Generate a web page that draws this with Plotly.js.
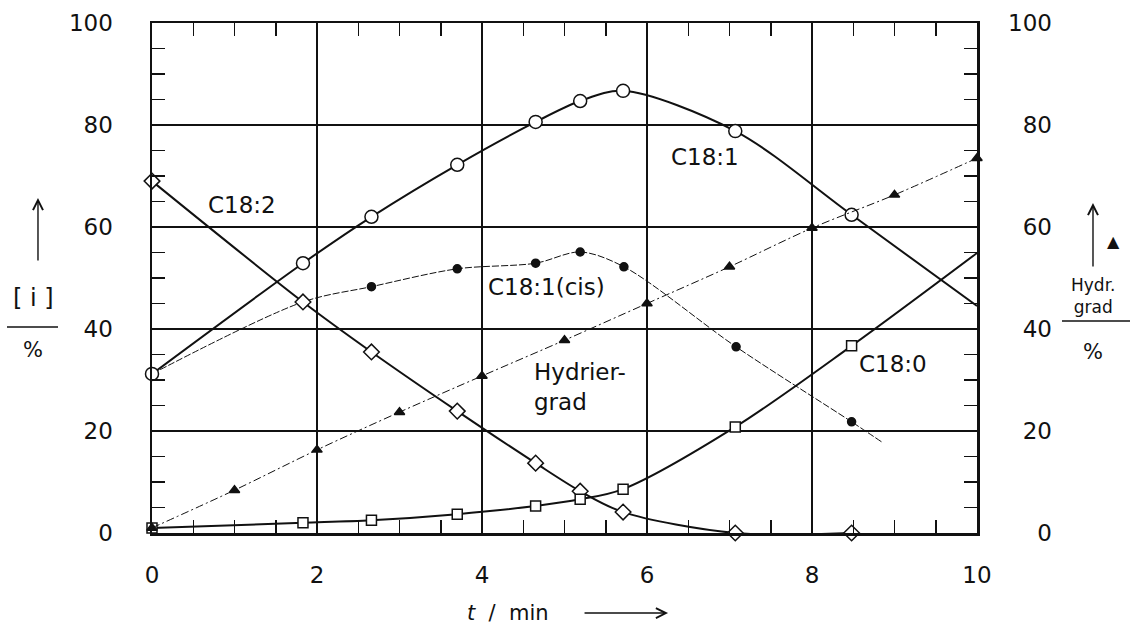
<!DOCTYPE html>
<html>
<head>
<meta charset="utf-8">
<script src="https://cdn.plot.ly/plotly-3.0.1.min.js"></script>
<style>
  html, body { margin:0; padding:0; background:#fff; }
  #chart { width:1130px; height:625px; }
</style>
</head>
<body>
<div id="chart"></div>
<script>
// sampling times (min) of the measured points
const tSample = [0, 1.83, 2.66, 3.70, 4.65, 5.19, 5.71, 7.07, 8.48];

// concentrations [i] in %
const c182 = [69.0, 45.3, 35.5, 23.9, 13.7, 8.2, 4.1, 0, 0];
const c181 = [31.2, 52.9, 62.0, 72.2, 80.6, 84.7, 86.7, 78.8, 62.4];
const c180 = [1.0, 2.0, 2.5, 3.7, 5.3, 6.6, 8.6, 20.8, 36.7];

// C18:1 (cis) has its own sample set
const tCis = [0, 1.83, 2.66, 3.70, 4.65, 5.19, 5.72, 7.08, 8.48];
const c181cis = [31.2, 45.3, 48.3, 51.8, 52.9, 55.1, 52.2, 36.5, 21.8];

// Hydriergrad (right axis, %)
const tHydr = [0, 1, 2, 3, 4, 5, 6, 7, 8, 9, 10];
const hydr = [1.0, 8.4, 16.3, 23.7, 30.8, 37.8, 45.0, 52.2, 59.8, 66.3, 73.5];

// where the drawn curves run on past the last point
const c181EndT = [10], c181EndY = [44.5];
const c180EndT = [10], c180EndY = [54.9];
const cisEndT = [8.85], cisEndY = [17.8];

// tick labels
const xTicks = [0, 2, 4, 6, 8, 10];
const yTicks = [0, 20, 40, 60, 80, 100];
const yTickTextRight = ["\u2007\u20070", "\u200720", "\u200740", "\u200760", "\u200780", "100"];

const FONT = "DejaVu Sans";
const INK = "#111";

function curve(x, y, width, dash, yaxis){
  return {x, y, mode:"lines", hoverinfo:"skip", yaxis: yaxis || "y",
    line:{color:INK, width, dash: dash || "solid", shape:"spline", smoothing:0.9}};
}
function pts(x, y, symbol, size, fill, yaxis){
  return {x, y, mode:"markers", hoverinfo:"skip", yaxis: yaxis || "y", cliponaxis:false,
    marker:{symbol, size, color:fill, line:{color:INK, width:1.5}}};
}

const traces = [
  curve(tHydr, hydr, 1, "8px,3px,2px,3px", "y2"),
  curve(tCis.concat(cisEndT), c181cis.concat(cisEndY), 1, "7px,2px"),
  curve(tSample, c182, 2),
  curve(tSample.concat(c181EndT), c181.concat(c181EndY), 2),
  curve(tSample.concat(c180EndT), c180.concat(c180EndY), 2),
  pts(tHydr, hydr, "triangle-up", 9, INK, "y2"),
  pts(tCis, c181cis, "circle", 8, INK),
  pts(tSample, c182, "diamond", 12, "#fff"),
  pts(tSample, c180, "square", 10, "#fff"),
  pts(tSample, c181, "circle", 13, "#fff")
];

function ann(text, x, y, opts){
  return Object.assign({text, x, y, xref:"x", yref:"y", showarrow:false,
    xanchor:"center", yanchor:"middle",
    font:{family:FONT, size:23, color:INK}}, opts || {});
}
function pann(text, x, y, size, opts){
  return Object.assign({text, x, y, xref:"paper", yref:"paper", showarrow:false,
    xanchor:"center", yanchor:"middle",
    font:{family:FONT, size, color:INK}}, opts || {});
}
function arrow(x, y, ax, ay){
  return {text:"", x, y, xref:"paper", yref:"paper", showarrow:true, ax, ay,
    arrowhead:5, arrowsize:1.4, arrowwidth:1.4, arrowcolor:INK, standoff:0};
}

const axisCommon = {
  showline:true, linecolor:INK, linewidth:2.5,
  showgrid:true, gridcolor:INK, gridwidth:1.5,
  zeroline:false, ticks:"inside", ticklen:13, tickwidth:1.5, tickcolor:INK,
  tickfont:{family:FONT, size:23, color:INK}
};

const layout = {
  width:1130, height:625,
  paper_bgcolor:"#fff", plot_bgcolor:"#fff",
  margin:{l:152, r:153, t:23, b:92},
  showlegend:false,
  xaxis: Object.assign({}, axisCommon, {
    range:[0,10], tickvals:xTicks, mirror:"allticks", ticklabelstandoff:20,
    minor:{dtick:0.5, ticks:"inside", ticklen:13, tickwidth:1.5, tickcolor:INK, showgrid:false}
  }),
  yaxis: Object.assign({}, axisCommon, {
    range:[0,100], tickvals:yTicks, mirror:false, ticklabelstandoff:32,
    minor:{dtick:5, ticks:"inside", ticklen:13, tickwidth:1.5, tickcolor:INK, showgrid:false}
  }),
  yaxis2: Object.assign({}, axisCommon, {
    range:[0,100], overlaying:"y", side:"right", showgrid:false,
    tickvals:yTicks, ticktext:yTickTextRight, ticklabelstandoff:24,
    minor:{dtick:5, ticks:"inside", ticklen:13, tickwidth:1.5, tickcolor:INK, showgrid:false}
  }),
  shapes:[
    {type:"line", xref:"paper", yref:"paper", x0:-0.1758, x1:-0.1139, y0:0.404, y1:0.404, line:{color:INK, width:1.5}},
    {type:"line", xref:"paper", yref:"paper", x0:1.103, x1:1.1855, y0:0.4157, y1:0.4157, line:{color:INK, width:1.5}}
  ],
  annotations:[
    ann("C18:2", 1.09, 64.3),
    ann("C18:1", 6.70, 73.7),
    ann("C18:1(cis)", 4.78, 48.2),
    ann("Hydrier-<br>grad", 4.61, 28.6, {xanchor:"left", align:"left"}),
    ann("C18:0", 8.98, 33.1),
    // left axis label
    arrow(-0.1382, 0.657, 0, 64),
    pann("[ i ]", -0.1442, 0.461, 24),
    pann("%", -0.1442, 0.359, 21),
    // right axis label
    arrow(1.1406, 0.647, 0, 65),
    pann("▲", 1.165, 0.571, 16),
    pann("Hydr.<br>grad", 1.1406, 0.465, 17),
    pann("%", 1.1406, 0.355, 21),
    // x axis title
    pann("<i>t</i>  /  min", 0.4315, -0.157, 21),
    arrow(0.6255, -0.157, -85, 0)
  ]
};

Plotly.newPlot("chart", traces, layout, {displayModeBar:false, staticPlot:true});
</script>
</body>
</html>
